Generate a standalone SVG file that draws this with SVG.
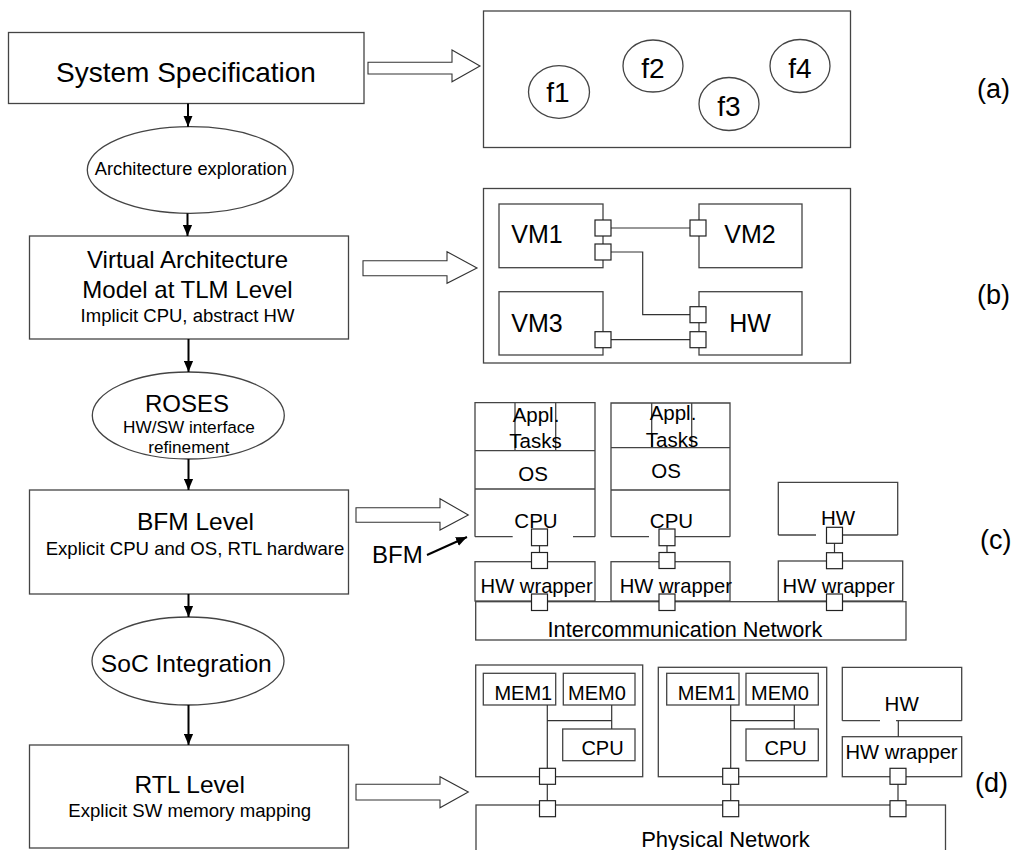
<svg xmlns="http://www.w3.org/2000/svg" width="1025" height="850" viewBox="0 0 1025 850">
<defs>
<marker id="ah" viewBox="0 0 12 10" refX="12" refY="5" markerWidth="11" markerHeight="10" markerUnits="userSpaceOnUse" orient="auto">
<path d="M0,0 L12,5 L0,10 z" fill="#000"/>
</marker>
</defs>
<style>
text{font-family:"Liberation Sans",Arial,sans-serif;fill:#000;text-anchor:middle}
.box{fill:#fff;stroke:#444;stroke-width:1.3}
.ln{fill:none;stroke:#444;stroke-width:1.3}
.port{fill:#fff;stroke:#222;stroke-width:1.2}
.wire{fill:none;stroke:#333;stroke-width:1.2}
.flow{stroke:#000;stroke-width:2;fill:none;marker-end:url(#ah)}
.big{fill:#fff;stroke:#333;stroke-width:1.1}
.lab{font-size:27px;text-anchor:start}
.fn{font-size:28px}
</style>
<rect width="1025" height="850" fill="#fff"/>

<!-- Left column -->
<g id="sysspec"><rect class="box" x="8.5" y="32.5" width="355.5" height="71"/><text x="186" y="82" font-size="28">System Specification</text></g>
<g id="archexp"><ellipse class="box" cx="190.3" cy="170" rx="103" ry="43.3"/><text x="190.8" y="175" font-size="18.3">Architecture exploration</text></g>
<g id="vam"><rect class="box" x="29.5" y="236" width="319" height="103"/>
<text x="187.5" y="268" font-size="24">Virtual Architecture</text>
<text x="187.5" y="298" font-size="24">Model at TLM Level</text>
<text x="187.5" y="322" font-size="18.5">Implicit CPU, abstract HW</text></g>
<g id="roses"><ellipse class="box" cx="188.3" cy="415.5" rx="96" ry="43.5"/>
<text x="187" y="412" font-size="24">ROSES</text>
<text x="189" y="433.3" font-size="17.2">HW/SW interface</text>
<text x="188.8" y="453" font-size="17.2">refinement</text></g>
<g id="bfm"><rect class="box" x="29.5" y="490" width="319" height="104"/>
<text x="195.5" y="530" font-size="24.5">BFM Level</text>
<text x="195" y="555" font-size="18.6">Explicit CPU and OS, RTL hardware</text></g>
<g id="soc"><ellipse class="box" cx="188" cy="661" rx="96" ry="44"/><text x="186.3" y="671.7" font-size="24.6">SoC Integration</text></g>
<g id="rtl"><rect class="box" x="29.5" y="745" width="319" height="103"/>
<text x="189.7" y="793.3" font-size="24.5">RTL Level</text>
<text x="189.7" y="816.7" font-size="18.6">Explicit SW memory mapping</text></g>

<g id="connectors">
<line class="flow" x1="188" y1="103.5" x2="188" y2="126.7"/>
<line class="flow" x1="187.5" y1="213.3" x2="187.5" y2="236"/>
<line class="flow" x1="188.5" y1="339" x2="188.5" y2="372"/>
<line class="flow" x1="188.5" y1="459" x2="188.5" y2="490"/>
<line class="flow" x1="188.5" y1="594" x2="188.5" y2="617"/>
<line class="flow" x1="188.5" y1="705" x2="188.5" y2="745"/>
<polygon class="big" points="368,62.3 452,62.3 452,50 480,66 452,81.7 452,74 368,74"/>
<polygon class="big" points="363,260.7 447,260.7 447,251.7 477,268 447,283.3 447,275.7 363,275.7"/>
<polygon class="big" points="356,507.7 440,507.7 440,498.7 468.3,515 440,530 440,522.3 356,522.3"/>
<polygon class="big" points="356,784.3 440,784.3 440,776.7 468.3,792 440,807.7 440,800 356,800"/>
<line class="flow" x1="427" y1="555" x2="467" y2="537"/>
</g>
<text x="372" y="563" font-size="24" style="text-anchor:start">BFM</text>

<!-- (a) -->
<g id="panel-a"><rect class="box" x="483.5" y="11" width="367" height="136.5"/>
<ellipse class="box" cx="559" cy="92" rx="30.5" ry="26.3"/><text class="fn" x="558" y="102">f1</text>
<ellipse class="box" cx="653" cy="66" rx="30" ry="26"/><text class="fn" x="653" y="77.5">f2</text>
<ellipse class="box" cx="729" cy="104" rx="30" ry="26.5"/><text class="fn" x="729" y="115.5">f3</text>
<ellipse class="box" cx="800" cy="66" rx="30" ry="26.5"/><text class="fn" x="800" y="77.5">f4</text>
</g>
<text class="lab" x="977" y="98">(a)</text>

<!-- (b) -->
<g id="panel-b"><rect class="box" x="483.5" y="188.5" width="367" height="174.5"/>
<rect class="box" x="499" y="204" width="104" height="63.7"/><text x="537" y="243.3" font-size="25">VM1</text>
<rect class="box" x="699" y="204" width="103" height="63.7"/><text x="750" y="243.3" font-size="25">VM2</text>
<rect class="box" x="499" y="291.7" width="104" height="63.3"/><text x="537" y="331.7" font-size="25">VM3</text>
<rect class="box" x="699" y="291.7" width="103" height="63.3"/><text x="750" y="331.7" font-size="25">HW</text>
<path class="wire" d="M611,228 H690 M611,252 H642.7 V314.7 H690 M611,339.7 H690"/>
<rect class="port" x="595" y="220" width="16" height="16"/>
<rect class="port" x="595" y="244" width="16" height="16"/>
<rect class="port" x="690" y="220" width="16" height="16"/>
<rect class="port" x="690" y="306.7" width="16" height="16"/>
<rect class="port" x="690" y="331.7" width="16" height="16"/>
<rect class="port" x="595" y="331.7" width="16" height="16"/>
</g>
<text class="lab" x="977" y="304">(b)</text>

<!-- (c) -->
<g id="panel-c">
<g id="stack1">
<rect x="475" y="402.7" width="120" height="134" fill="#fff"/>
<path class="ln" d="M475,536.7 V402.7 H595 V536.7 M475,450.7 H595 M475,489 H595 M475,536.7 H512.7 M573,536.7 H595 M515,402.7 V450.7 M555.7,402.7 V450.7"/>
<text x="536" y="421.7" font-size="20.5">Appl.</text><text x="535.5" y="448" font-size="20.5">Tasks</text>
<text x="533" y="480.7" font-size="20.5">OS</text><text x="536" y="527.7" font-size="20.5">CPU</text>
</g>
<g id="stack2">
<rect x="611" y="403" width="119" height="133.7" fill="#fff"/>
<path class="ln" d="M611,536.7 V403 H730 V536.7 M611,447.7 H730 M611,490 H730 M611,536.7 H649 M675,536.7 H730 M651.7,403 V447.7 M691.7,403 V447.7"/>
<text x="673" y="420" font-size="20.5">Appl.</text><text x="672" y="446.7" font-size="20.5">Tasks</text>
<text x="666" y="478.3" font-size="20.5">OS</text><text x="671.5" y="527.7" font-size="20.5">CPU</text>
</g>
<g id="hwc">
<rect x="778.3" y="482.3" width="119.4" height="52.7" fill="#fff"/>
<path class="ln" d="M778.3,535 V482.3 H897.7 V535 M778.3,535 H816 M841.7,535 H897.7"/>
<text x="838" y="525" font-size="20.5">HW</text>
</g>
<g id="network-c"><rect class="box" x="475.7" y="601.7" width="430.3" height="38.3"/><text x="685" y="636.7" font-size="21.7">Intercommunication Network</text></g>
<g id="wrap1"><rect class="box" x="475" y="561.7" width="120" height="39.3"/><text x="536.7" y="593.3" font-size="20.2">HW wrapper</text></g>
<g id="wrap2"><rect class="box" x="611" y="561.7" width="119" height="39.3"/><text x="675.8" y="593.3" font-size="20.2">HW wrapper</text></g>
<g id="wrap3"><rect class="box" x="778.3" y="561" width="124.4" height="40"/><text x="838.7" y="593.3" font-size="20.2">HW wrapper</text></g>
<path class="wire" d="M539.5,545 V553 M667,545 V553 M834.5,543 V553"/>
<rect class="port" x="531.5" y="529" width="16" height="16.7"/>
<rect class="port" x="531.5" y="552.5" width="16" height="16"/>
<rect class="port" x="531.5" y="594" width="16" height="16.5"/>
<rect class="port" x="659" y="529" width="16" height="16.7"/>
<rect class="port" x="659" y="552.5" width="16" height="16"/>
<rect class="port" x="659" y="594" width="16" height="16.5"/>
<rect class="port" x="826.5" y="527.3" width="16" height="16"/>
<rect class="port" x="826.5" y="552.7" width="16" height="16"/>
<rect class="port" x="826.5" y="594" width="16" height="16.5"/>
</g>
<text class="lab" x="980" y="549">(c)</text>

<!-- (d) -->
<g id="panel-d">
<g id="phys"><rect class="box" x="476" y="805" width="469.5" height="60"/><text x="725.5" y="846.7" font-size="22">Physical Network</text></g>
<g id="grp1"><rect class="box" x="475.7" y="665" width="167" height="111.7"/>
<rect class="box" x="483.3" y="673.3" width="72.4" height="31.7"/><text x="523.3" y="700" font-size="20">MEM1</text>
<rect class="box" x="563.3" y="673.3" width="71.7" height="31.7"/><text x="597" y="700" font-size="20">MEM0</text>
<rect class="box" x="562.7" y="729" width="72.3" height="31.7"/><text x="602.5" y="755" font-size="20">CPU</text>
<path class="wire" d="M547.3,705 V801 M547.3,720.7 H611.7 M611.7,705 V729"/>
</g>
<g id="grp2"><rect class="box" x="658.3" y="667.3" width="168.4" height="109.4"/>
<rect class="box" x="666.7" y="673.3" width="72.3" height="31.7"/><text x="706.7" y="700" font-size="20">MEM1</text>
<rect class="box" x="746" y="673.3" width="72.3" height="31.7"/><text x="780" y="700" font-size="20">MEM0</text>
<rect class="box" x="746" y="729" width="72.3" height="31.7"/><text x="785.7" y="755" font-size="20">CPU</text>
<path class="wire" d="M730.7,705 V801 M730.7,720.7 H794.3 M794.3,705 V729"/>
</g>
<g id="grp3">
<rect x="842.3" y="667.3" width="119.4" height="53.4" fill="#fff"/>
<path class="ln" d="M842.3,720.7 V667.3 H961.7 V720.7 M842.3,720.7 H880 M896,720.7 H961.7"/>
<text x="901.7" y="710.7" font-size="20.5">HW</text>
<rect class="box" x="842.3" y="736.7" width="119.4" height="40"/><text x="901.5" y="759.3" font-size="20.2">HW wrapper</text>
<path class="wire" d="M898.3,720.7 V736.7 M898,784 V801"/>
</g>
<rect class="port" x="539.5" y="768.3" width="16" height="16"/>
<rect class="port" x="539.5" y="800.7" width="16" height="16"/>
<rect class="port" x="722.7" y="768.3" width="16" height="16"/>
<rect class="port" x="722.7" y="800.7" width="16" height="16"/>
<rect class="port" x="890" y="768.3" width="16" height="16"/>
<rect class="port" x="890" y="800.7" width="16" height="16"/>
</g>
<text class="lab" x="975" y="792">(d)</text>
</svg>
